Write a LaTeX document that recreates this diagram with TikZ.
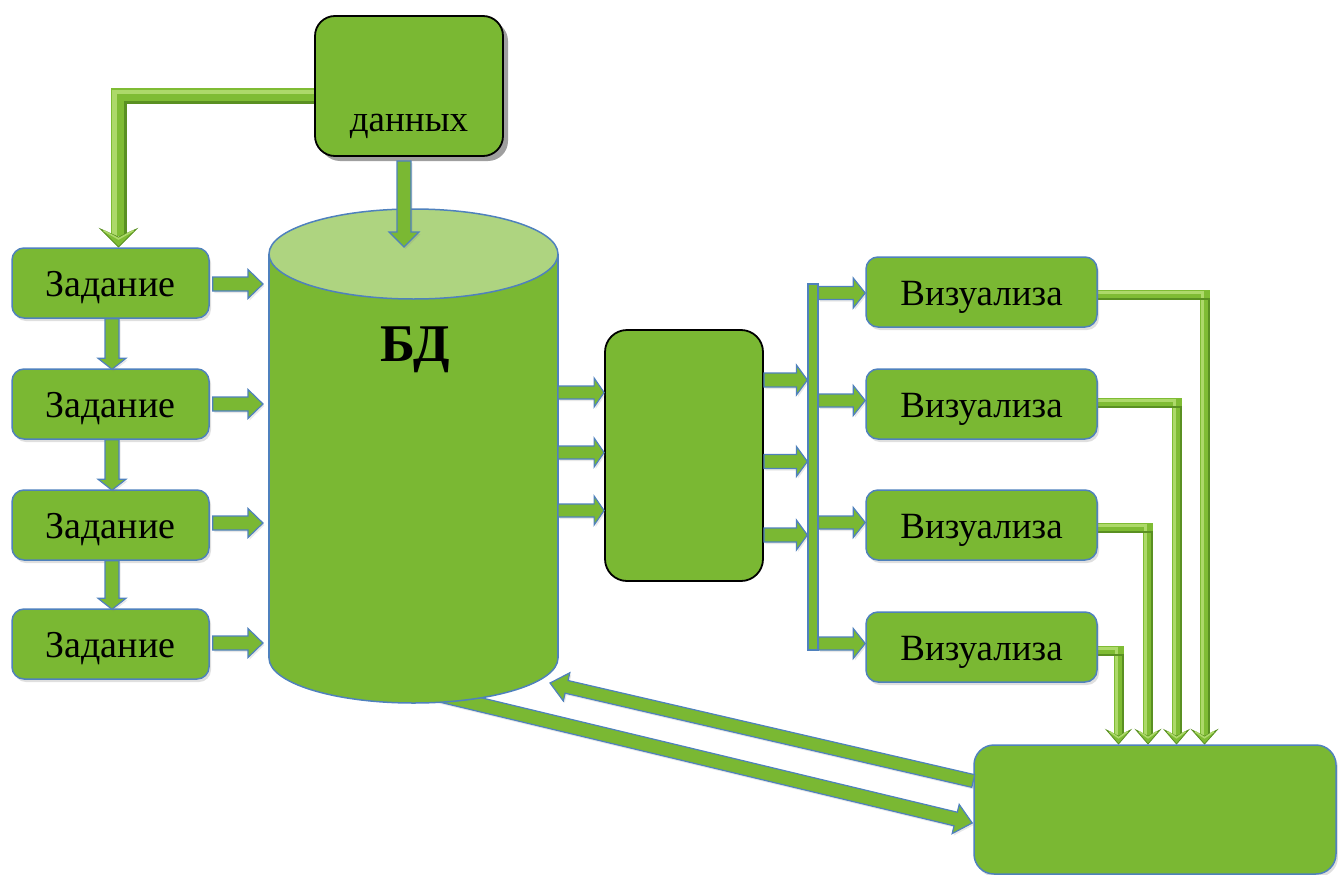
\documentclass[tikz,border=0pt]{standalone}
\usepackage{fontspec}
\setmainfont{Liberation Serif}
\usetikzlibrary{calc,shadows}
\definecolor{gr}{HTML}{7AB833}
\definecolor{bl}{HTML}{4F81BD}
\definecolor{lgr}{HTML}{AED480}
\definecolor{bevdark}{HTML}{5A9022}
\definecolor{bevmid}{HTML}{7FBC34}
\definecolor{bevhi}{HTML}{ADD96A}
\tikzset{
  blockarr/.style={fill=gr, draw=bl, line width=1.2pt, line join=miter,
    drop shadow={shadow xshift=1.5pt, shadow yshift=-2pt, opacity=0.18}},
  box/.style={draw=bl, line width=1.5pt, fill=gr, rounded corners=12pt,
    minimum width=197pt, minimum height=70pt, inner sep=0pt,
    text height=26pt, text depth=0pt, font=\fontsize{38}{42}\selectfont,
    drop shadow={shadow xshift=2pt, shadow yshift=-3pt, opacity=0.25}},
  vizbox/.style={box, minimum width=231pt, font=\fontsize{37}{42}\selectfont},
  blackbox/.style={draw=black, line width=1.8pt, fill=gr, inner sep=0pt},
  bigbox/.style={draw=bl, line width=1.5pt, fill=gr, inner sep=0pt, rounded corners=20pt,
    drop shadow={shadow xshift=2pt, shadow yshift=-3pt, opacity=0.25}},
  lbl/.style={font=\fontsize{37}{42}\selectfont, inner sep=0pt, anchor=base},
}
% block arrow: [opts]{start}{end}{half shaft}{half head}{head length}
\newcommand\barrow[6][]{%
  \path let \p1=#2, \p2=#3 in
    \pgfextra{\pgfmathparse{atan2(\y2-\y1,\x2-\x1)}\xdef\bang{\pgfmathresult}%
      \pgfmathparse{veclen(\x2-\x1,\y2-\y1)}\xdef\blen{\pgfmathresult}%
      \xdef\bsx{\x1}\xdef\bsy{\y1}};
  \draw[blockarr,#1,shift={(\bsx,\bsy)},rotate=\bang]
    (0pt,-#4pt) -- ({\blen pt-#6pt},-#4pt) -- ({\blen pt-#6pt},-#5pt) -- (\blen pt,0pt)
    -- ({\blen pt-#6pt},#5pt) -- ({\blen pt-#6pt},#4pt) -- (0pt,#4pt) -- cycle;
}
% bevelled L connector: {x0}{y}{X}{yend}{width}
\newcommand\bevL[5]{%
  \draw[bevmid, line width=#5pt, line join=miter] (#1,#2) -- (#3,#2) -- (#3,#4);
  \draw[bevhi, line width={0.3*#5pt}, line join=miter]
    (#1,{#2-0.25*#5}) -- ({#3-0.25*#5},{#2-0.25*#5}) -- ({#3-0.25*#5},#4);
  \draw[bevdark, line width={0.18*#5pt}, line join=miter]
    (#1,{#2+0.41*#5}) -- ({#3+0.41*#5},{#2+0.41*#5}) -- ({#3+0.41*#5},#4);
}
% bevel head: {x}{tip y}{half width}{length}
\newcommand\bevhead[4]{%
  \draw[bevdark, fill=bevmid, line width=0.8pt, line join=miter]
    ({#1-#3},{#2-#4}) -- (#1,#2) -- ({#1+#3},{#2-#4}) -- (#1,{#2-0.55*#4}) -- cycle;
  \draw[bevhi, line width=1.6pt] ({#1-#3+3},{#2-#4+1.5}) -- (#1,{#2-0.45*#4}) -- ({#1+#3-3},{#2-#4+1.5});
}
\begin{document}
\begin{tikzpicture}[x=1pt,y=-1pt]
\useasboundingbox (0,0) rectangle (1338,875);

% ---- bevel connectors (drawn under boxes)
\bevL{330}{96}{118.5}{236}{16}
\bevhead{118.5}{247}{18}{18}
\bevL{1090}{295}{1204.5}{736}{10}
\bevhead{1204.5}{744}{12.5}{14}
\bevL{1090}{402.5}{1176.5}{736}{10}
\bevhead{1176.5}{744}{12}{14}
\bevL{1090}{527.5}{1148}{736}{10}
\bevhead{1148}{744}{12}{14}
\bevL{1090}{650.5}{1118.5}{736}{10}
\bevhead{1118.5}{744}{12}{14}

% ---- boxes
\node[blackbox, rounded corners=20pt, minimum width=188pt, minimum height=140pt,
  drop shadow={shadow xshift=5pt, shadow yshift=-5pt, fill=gray!75, opacity=1}] (dan) at (409,86) {};
\node[lbl] (dantxt) at (409,131) {данных};

\node[box] (z1) at (110.5,283) {Задание};
\node[box] (z2) at (110.5,404) {Задание};
\node[box] (z3) at (110.5,525) {Задание};
\node[box] (z4) at (110.5,644) {Задание};

\node[vizbox] (v1) at (981.5,292) {Визуализа};
\node[vizbox] (v2) at (981.5,404) {Визуализа};
\node[vizbox] (v3) at (981.5,525) {Визуализа};
\node[vizbox] (v4) at (981.5,647) {Визуализа};

\node[blackbox, rounded corners=22pt, minimum width=158pt, minimum height=251pt] (mid) at (684,455.5) {};
\node[bigbox, minimum width=362pt, minimum height=129pt] (out) at (1155,809.5) {};
\node[draw=bl, fill=gr, line width=1.2pt, minimum width=10pt, minimum height=366pt, inner sep=0pt] (bus) at (813,467) {};

% ---- arrow from database to the output box (starts under the cylinder)
\coordinate (dbS) at (440,695);
\barrow{(dbS)}{($(out.west)+(-1,13.5)$)}{7}{15}{17}

% ---- database cylinder
\coordinate (db) at (413.5,456);
\fill[gr] (269,254) rectangle (558,658);
\fill[gr] (413.5,658) ellipse [x radius=144.5, y radius=45];
\begin{scope}
  \clip (250,658) rectangle (580,720);
  \draw[bl, line width=1.5pt] (413.5,658) ellipse [x radius=144.5, y radius=45];
\end{scope}
\draw[bl, line width=1.5pt] (269,254) -- (269,658) (558,254) -- (558,658);
\draw[bl, line width=1.5pt, fill=lgr] (413.5,254) ellipse [x radius=144.5, y radius=45];
\node[font=\bfseries\fontsize{53}{56}\selectfont, inner sep=0pt, anchor=base] (dbtxt) at (415,361) {БД};

% ---- block arrows
\barrow{($(dan.south)+(-5,4)$)}{(404,247)}{7}{15}{15}
\barrow{($(z1.south)+(1.5,0)$)}{($(z2.north)+(1.5,1)$)}{7}{14}{11}
\barrow{($(z2.south)+(1.5,0)$)}{($(z3.north)+(1.5,1)$)}{7}{14}{11}
\barrow{($(z3.south)+(1.5,0)$)}{($(z4.north)+(1.5,1)$)}{7}{14}{11}
\barrow{($(z1.east)+(3,1)$)}{(263,284)}{7}{14.5}{15}
\barrow{($(z2.east)+(3,0)$)}{(263,404)}{7}{14.5}{15}
\barrow{($(z3.east)+(3,-2)$)}{(263,523)}{7}{14.5}{15}
\barrow{($(z4.east)+(3,-1)$)}{(263,643)}{7}{14.5}{15}

\barrow{(558,392.5)}{(mid.west |- 0,392.5)}{6.5}{14.5}{10}
\barrow{(558,452.5)}{(mid.west |- 0,452.5)}{6.5}{14.5}{10}
\barrow{(558,510.5)}{(mid.west |- 0,510.5)}{6.5}{14.5}{10}

\barrow{(mid.east |- 0,380)}{(bus.west |- 0,380)}{7}{15}{11}
\barrow{(mid.east |- 0,461.5)}{(bus.west |- 0,461.5)}{7}{15}{11}
\barrow{(mid.east |- 0,535)}{(bus.west |- 0,535)}{7}{15}{11}

\barrow{(bus.east |- 0,293)}{(v1.west |- 0,293)}{6.5}{15}{12}
\barrow{(bus.east |- 0,400.5)}{(v2.west |- 0,400.5)}{6.5}{15}{12}
\barrow{(bus.east |- 0,522.5)}{(v3.west |- 0,522.5)}{6.5}{15}{12}
\barrow{(bus.east |- 0,643.5)}{(v4.west |- 0,643.5)}{6.5}{15}{12}

\barrow{($(out.west)+(0,-28.5)$)}{(550,683)}{6.5}{14.5}{17}
\end{tikzpicture}
\end{document}
